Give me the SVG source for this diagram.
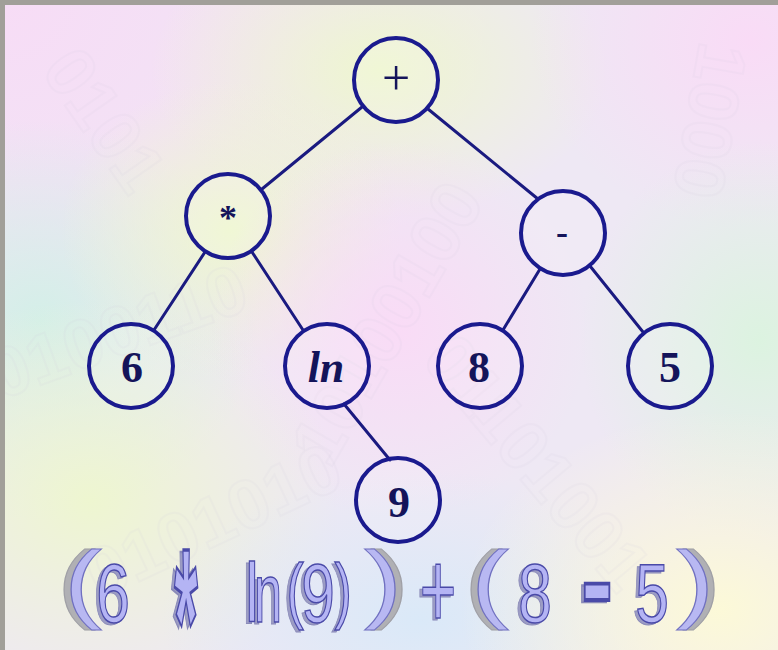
<svg xmlns="http://www.w3.org/2000/svg" width="778" height="650" viewBox="0 0 778 650">
  <defs>
    <!-- pastel wash: soft colour blobs over a lavender base -->
    <radialGradient id="gPinkTL" cx="0" cy="0" r="1" gradientUnits="objectBoundingBox"><stop offset="0" stop-color="#f7dcf6"/><stop offset="1" stop-color="#f7dcf6" stop-opacity="0"/></radialGradient>
    <radialGradient id="gYellow" cx="0.5" cy="0.5" r="0.5"><stop offset="0" stop-color="#eef6d0"/><stop offset="1" stop-color="#eef6d0" stop-opacity="0"/></radialGradient>
    <radialGradient id="gPink" cx="0.5" cy="0.5" r="0.5"><stop offset="0" stop-color="#f9dbf6"/><stop offset="1" stop-color="#f9dbf6" stop-opacity="0"/></radialGradient>
    <radialGradient id="gCyan" cx="0.5" cy="0.5" r="0.5"><stop offset="0" stop-color="#d4efe8"/><stop offset="1" stop-color="#d4efe8" stop-opacity="0"/></radialGradient>
    <radialGradient id="gBlue" cx="0.5" cy="0.5" r="0.5"><stop offset="0" stop-color="#dae9f8"/><stop offset="1" stop-color="#dae9f8" stop-opacity="0"/></radialGradient>
    <radialGradient id="gCream" cx="0.5" cy="0.5" r="0.5"><stop offset="0" stop-color="#fcf9d8"/><stop offset="1" stop-color="#fcf9d8" stop-opacity="0"/></radialGradient>
    <radialGradient id="gGreen" cx="0.5" cy="0.5" r="0.5"><stop offset="0" stop-color="#dcf3e0"/><stop offset="1" stop-color="#dcf3e0" stop-opacity="0"/></radialGradient>
    <style>
      .node circle { fill: #ffffff; fill-opacity: 0.12; stroke: #1a1a8e; stroke-width: 4; }
      .node text { font-family: "Liberation Serif", "Times New Roman", serif; font-weight: bold; fill: #14145a; text-anchor: middle; }
      .op { font-size: 36px; }
      .num { font-size: 44px; }
      .edges line { stroke: #1a1a80; stroke-width: 3; stroke-linecap: round; }
      .wm { font-family: "Liberation Sans", Arial, sans-serif; font-weight: bold; font-size: 70px; fill: none; stroke: #cfc8dc; stroke-width: 2; opacity: 0.1; }
      .fx { font-family: "Liberation Sans", Arial, sans-serif; text-anchor: middle; }
      .fx .sh { fill: #9c9cc4; stroke: #8a8ab8; stroke-width: 1; }
      .fx .fg { fill: #b4b4f4; stroke: #4a4aa8; stroke-width: 1.5; }
      .fx .psh { fill: #b0b0b4; stroke: #a0a0a6; stroke-width: 1; }
      .fx .pfg { fill: #b8b8f2; stroke: #7070c0; stroke-width: 1; }
    </style>
  </defs>

  <!-- background -->
  <rect x="0" y="0" width="778" height="650" fill="#eee8f4"/>
  <rect x="0" y="0" width="500" height="420" fill="url(#gPinkTL)"/>
  <ellipse cx="380" cy="70" rx="230" ry="150" fill="url(#gYellow)"/>
  <ellipse cx="750" cy="40" rx="220" ry="190" fill="url(#gPink)"/>
  <ellipse cx="40" cy="320" rx="220" ry="200" fill="url(#gCyan)"/>
  <ellipse cx="230" cy="230" rx="170" ry="150" fill="url(#gYellow)"/>
  <ellipse cx="400" cy="330" rx="190" ry="190" fill="url(#gPink)"/>
  <ellipse cx="760" cy="340" rx="180" ry="200" fill="url(#gGreen)"/>
  <ellipse cx="90" cy="500" rx="250" ry="200" fill="url(#gYellow)"/>
  <ellipse cx="420" cy="620" rx="260" ry="150" fill="url(#gBlue)"/>
  <ellipse cx="720" cy="610" rx="260" ry="200" fill="url(#gCream)"/>

  <!-- faint binary watermark -->
  <g>
    <text class="wm" transform="translate(40,70) rotate(55)">0101</text>
    <text class="wm" transform="translate(700,40) rotate(100)">1000</text>
    <text class="wm" transform="translate(330,470) rotate(-60)">10100100</text>
    <text class="wm" transform="translate(0,400) rotate(-20)">0100110</text>
    <text class="wm" transform="translate(420,360) rotate(50)">01101001</text>
    <text class="wm" transform="translate(100,600) rotate(-25)">0101010</text>
  </g>

  <!-- frame edges -->
  <rect x="0" y="0" width="778" height="5" fill="#a19f99"/>
  <rect x="0" y="0" width="5" height="650" fill="#a19f99"/>

  <!-- connectors -->
  <g class="edges" id="edges">
    <line x1="362" y1="107" x2="262" y2="189"/>
    <line x1="428" y1="109" x2="538" y2="199"/>
    <line x1="205" y1="252" x2="154" y2="330"/>
    <line x1="252" y1="252" x2="303" y2="330"/>
    <line x1="540" y1="269" x2="503" y2="330"/>
    <line x1="590" y1="266" x2="643" y2="332"/>
    <line x1="344" y1="404" x2="390" y2="460"/>
  </g>

  <!-- nodes -->
  <g class="node" id="n-plus"><circle cx="396" cy="80" r="42"/><text x="396" y="95" style="font-size:50px;font-weight:normal">+</text></g>
  <g class="node" id="n-times"><circle cx="228" cy="216" r="42"/><text class="op" x="228" y="230">*</text></g>
  <g class="node" id="n-minus"><circle cx="563" cy="233" r="42"/><text class="op" x="562" y="244">-</text></g>
  <g class="node" id="n-6"><circle cx="131" cy="366" r="42"/><text class="num" x="132" y="382">6</text></g>
  <g class="node" id="n-ln"><circle cx="327" cy="366" r="42"/><text class="num" x="326" y="382" style="font-style:italic">ln</text></g>
  <g class="node" id="n-8"><circle cx="480" cy="366" r="42"/><text class="num" x="479" y="382">8</text></g>
  <g class="node" id="n-5"><circle cx="670" cy="366" r="42"/><text class="num" x="670" y="382">5</text></g>
  <g class="node" id="n-9"><circle cx="398" cy="500" r="42"/><text class="num" x="399" y="517">9</text></g>

  <!-- expression in outlined lettering -->
  <g class="fx" id="expression">
    <!-- large brackets -->
    <text class="psh" transform="translate(76,612) scale(1.3,1)" font-size="88">(</text>
    <text class="pfg" transform="translate(83,612) scale(1.3,1)" font-size="88">(</text>
    <text class="psh" transform="translate(390,612) scale(1.3,1)" font-size="88">)</text>
    <text class="pfg" transform="translate(383,612) scale(1.3,1)" font-size="88">)</text>
    <text class="psh" transform="translate(483,612) scale(1.3,1)" font-size="88">(</text>
    <text class="pfg" transform="translate(490,612) scale(1.3,1)" font-size="88">(</text>
    <text class="psh" transform="translate(702,612) scale(1.3,1)" font-size="88">)</text>
    <text class="pfg" transform="translate(695,612) scale(1.3,1)" font-size="88">)</text>

    <!-- shadows -->
    <text class="sh" transform="translate(110,624) scale(0.72,1)" font-size="84">6</text>
    <text class="sh" transform="translate(183,694) scale(0.72,2.45)" font-size="84" font-weight="bold">*</text>
    <text class="sh" transform="translate(249,624) scale(0.72,1)" font-size="84">l</text>
    <text class="sh" transform="translate(265,624) scale(0.6,1)" font-size="84">n</text>
    <text class="sh" transform="translate(292,617) scale(0.72,1)" font-size="72">(</text>
    <text class="sh" transform="translate(315,624) scale(0.72,1)" font-size="84">9</text>
    <text class="sh" transform="translate(340,617) scale(0.72,1)" font-size="72">)</text>
    <text class="sh" transform="translate(435,630) scale(0.57,1)" font-size="110">+</text>
    <text class="sh" transform="translate(532,624) scale(0.72,1)" font-size="84">8</text>
    <text class="sh" transform="translate(594,650) scale(1.2,2.5)" font-size="84">-</text>
    <text class="sh" transform="translate(649,624) scale(0.72,1)" font-size="84">5</text>

    <!-- faces -->
    <text class="fg" transform="translate(113,622) scale(0.72,1)" font-size="84">6</text>
    <text class="fg" transform="translate(186,692) scale(0.72,2.45)" font-size="84" font-weight="bold">*</text>
    <text class="fg" transform="translate(252,622) scale(0.72,1)" font-size="84">l</text>
    <text class="fg" transform="translate(268,622) scale(0.6,1)" font-size="84">n</text>
    <text class="fg" transform="translate(295,615) scale(0.72,1)" font-size="72">(</text>
    <text class="fg" transform="translate(318,622) scale(0.72,1)" font-size="84">9</text>
    <text class="fg" transform="translate(343,615) scale(0.72,1)" font-size="72">)</text>
    <text class="fg" transform="translate(438,628) scale(0.57,1)" font-size="110">+</text>
    <text class="fg" transform="translate(535,622) scale(0.72,1)" font-size="84">8</text>
    <text class="fg" transform="translate(597,648) scale(1.2,2.5)" font-size="84">-</text>
    <text class="fg" transform="translate(652,622) scale(0.72,1)" font-size="84">5</text>
  </g>
</svg>
